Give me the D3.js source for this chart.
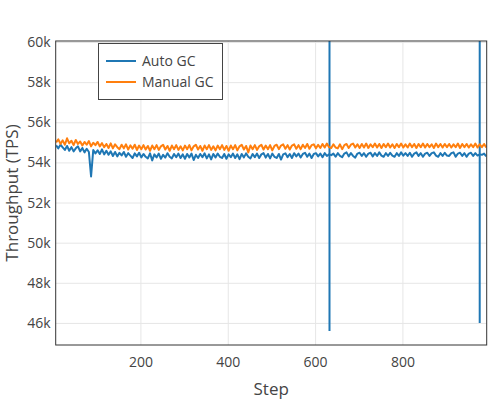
<!DOCTYPE html>
<html><head><meta charset="utf-8">
<script src="https://cdn.jsdelivr.net/npm/d3@7"></script>
<style>body{margin:0;background:#fff}text{font-family:"Open Sans","DejaVu Sans",sans-serif;fill:#444}</style>
</head><body><svg id="c" width="500" height="400"></svg>
<script>
const steps = d3.range(7, 993, 5);
const autoGC = [
54.85,54.70,54.88,54.75,54.62,54.82,54.58,54.76,54.55,54.70,54.80,54.55,54.72,54.50,54.68,54.52,53.30,54.62,54.45,54.60,
54.42,54.65,54.40,54.58,54.38,54.55,54.32,54.52,54.30,54.48,54.35,54.52,54.28,54.46,54.34,54.22,54.45,54.30,54.48,54.25,
54.42,54.28,54.20,54.45,54.10,54.40,54.25,54.44,54.18,54.38,54.24,54.46,54.28,54.20,54.42,54.26,54.44,54.22,54.40,54.18,
54.42,54.25,54.44,54.12,54.38,54.22,54.42,54.26,54.45,54.20,54.40,54.15,54.42,54.25,54.44,54.28,54.22,54.42,54.18,54.40,
54.26,54.44,54.22,54.40,54.16,54.42,54.25,54.45,54.28,54.20,54.42,54.26,54.44,54.22,54.40,54.46,54.24,54.42,54.20,54.44,
54.28,54.22,54.42,54.14,54.40,54.45,54.26,54.42,54.22,54.46,54.30,54.44,54.25,54.42,54.48,54.28,54.44,54.22,54.42,54.46,
54.30,54.44,54.26,54.46,54.32,54.40,54.36,54.44,54.28,54.46,54.32,54.26,54.44,54.50,54.30,54.46,54.32,54.24,54.44,54.48,
54.32,54.46,54.28,54.44,54.48,54.30,54.46,54.32,54.50,54.34,54.28,54.46,54.32,54.48,54.34,54.28,54.46,54.32,54.50,54.34,
54.46,54.32,54.48,54.28,54.44,54.50,54.32,54.46,54.28,54.44,54.48,54.32,54.46,54.50,54.34,54.28,54.46,54.32,54.48,54.34,
54.32,54.46,54.50,54.28,54.44,54.48,54.32,54.46,54.28,54.44,54.48,54.32,54.46,54.34,54.40,54.38,54.44,54.30];
const spikeSteps = [633, 977];
const spikeHigh = [62.0, 62.0];
const spikeLow = [45.6, 46.0];
const manualGC = [
55.00,55.15,54.92,55.10,54.88,55.20,54.95,55.08,54.86,55.12,54.92,55.04,54.84,55.02,54.88,55.06,54.80,54.98,54.86,55.02,
54.80,54.96,54.76,54.92,54.72,54.95,54.70,54.90,54.76,54.66,54.88,54.70,54.90,54.64,54.85,54.68,54.88,54.62,54.84,54.66,
54.86,54.64,54.82,54.58,54.84,54.66,54.86,54.62,54.80,54.88,54.64,54.82,54.58,54.84,54.66,54.86,54.62,54.80,54.60,54.84,
54.66,54.86,54.60,54.80,54.88,54.64,54.82,54.58,54.84,54.66,54.86,54.62,54.80,54.60,54.84,54.66,54.86,54.62,54.82,54.58,
54.84,54.66,54.86,54.60,54.80,54.88,54.64,54.82,54.50,54.84,54.66,54.86,54.62,54.80,54.88,54.64,54.84,54.66,54.86,54.60,
54.82,54.88,54.66,54.84,54.90,54.68,54.86,54.64,54.84,54.90,54.68,54.86,54.66,54.88,54.72,54.92,54.68,54.86,54.90,54.70,
54.88,54.72,54.92,54.74,54.94,54.76,54.72,54.90,54.74,54.70,54.90,54.66,54.86,54.92,54.72,54.88,54.94,54.74,54.90,54.72,
54.92,54.74,54.94,54.72,54.90,54.76,54.94,54.74,54.92,54.72,54.92,54.76,54.94,54.74,54.90,54.72,54.92,54.76,54.94,54.74,
54.90,54.74,54.94,54.76,54.92,54.72,54.92,54.76,54.94,54.74,54.92,54.76,54.90,54.72,54.94,54.76,54.92,54.74,54.92,54.76,
54.92,54.74,54.90,54.76,54.94,54.72,54.92,54.76,54.92,54.74,54.90,54.76,54.94,54.74,54.90,54.76,54.92,54.74];
const seriesNames = ["Auto GC", "Manual GC"];
const colors = ["#1f77b4", "#ff7f0e"];
const xTicks = [200, 400, 600, 800];
const yTicks = [46, 48, 50, 52, 54, 56, 58, 60];

const svg = d3.select("#c");
const L = 55.7, R = 486.7, T = 41, B = 345;
const x = d3.scaleLinear().domain([6, 993]).range([L, R]);
const y = d3.scaleLinear().domain([44.9, 60.05]).range([B, T]);

svg.append("defs").append("clipPath").attr("id","clip").append("rect")
  .attr("x",L).attr("y",T).attr("width",R-L).attr("height",B-T);

const gx = svg.append("g").attr("transform",`translate(0,${B})`)
  .call(d3.axisBottom(x).tickValues(xTicks).tickSize(-(B-T)).tickFormat(d3.format("d")));
const gy = svg.append("g").attr("transform",`translate(${L},0)`)
  .call(d3.axisLeft(y).tickValues(yTicks).tickSize(-(R-L)).tickFormat(d=>d+"k"));
[gx,gy].forEach(g=>{
  g.select(".domain").remove();
  g.selectAll("line").attr("stroke","#e6e6e6");
  g.selectAll("text").attr("font-size",14).style("fill","#444");
});
gx.selectAll("text").attr("dy","1.35em");
gy.selectAll("text").attr("dx","-0.15em");

const line = d3.line().x((d,i)=>x(steps[i])).y(d=>y(d));
const g = svg.append("g").attr("clip-path","url(#clip)");
g.append("path").datum(autoGC).attr("d",line).attr("fill","none")
  .attr("stroke",colors[0]).attr("stroke-width",2).attr("stroke-linejoin","round");
spikeSteps.forEach((s,i)=>{
  g.append("line").attr("x1",x(s)).attr("x2",x(s)).attr("y1",y(spikeHigh[i])).attr("y2",y(spikeLow[i]))
    .attr("stroke",colors[0]).attr("stroke-width",2);
});
g.append("path").datum(manualGC).attr("d",line).attr("fill","none")
  .attr("stroke",colors[1]).attr("stroke-width",2).attr("stroke-linejoin","round");

svg.append("rect").attr("x",L).attr("y",T).attr("width",R-L).attr("height",B-T)
  .attr("fill","none").attr("stroke","#333").attr("stroke-width",1);

svg.append("text").attr("x",(L+R)/2).attr("y",395).attr("text-anchor","middle")
  .attr("font-size",17).text("Step");
svg.append("text").attr("transform",`translate(18,${(T+B)/2}) rotate(-90)`)
  .attr("text-anchor","middle").attr("font-size",17).text("Throughput (TPS)");

const lg = svg.append("g");
lg.append("rect").attr("x",98.5).attr("y",43.5).attr("width",124).attr("height",56)
  .attr("fill","#fff").attr("stroke","#444").attr("stroke-width",1);
seriesNames.forEach((n,k)=>{
  const yy = 61 + k*21;
  lg.append("line").attr("x1",106).attr("x2",136).attr("y1",yy).attr("y2",yy)
    .attr("stroke",colors[k]).attr("stroke-width",2);
  lg.append("text").attr("x",142).attr("y",yy+5).attr("font-size",14).text(n);
});
</script></body></html>
